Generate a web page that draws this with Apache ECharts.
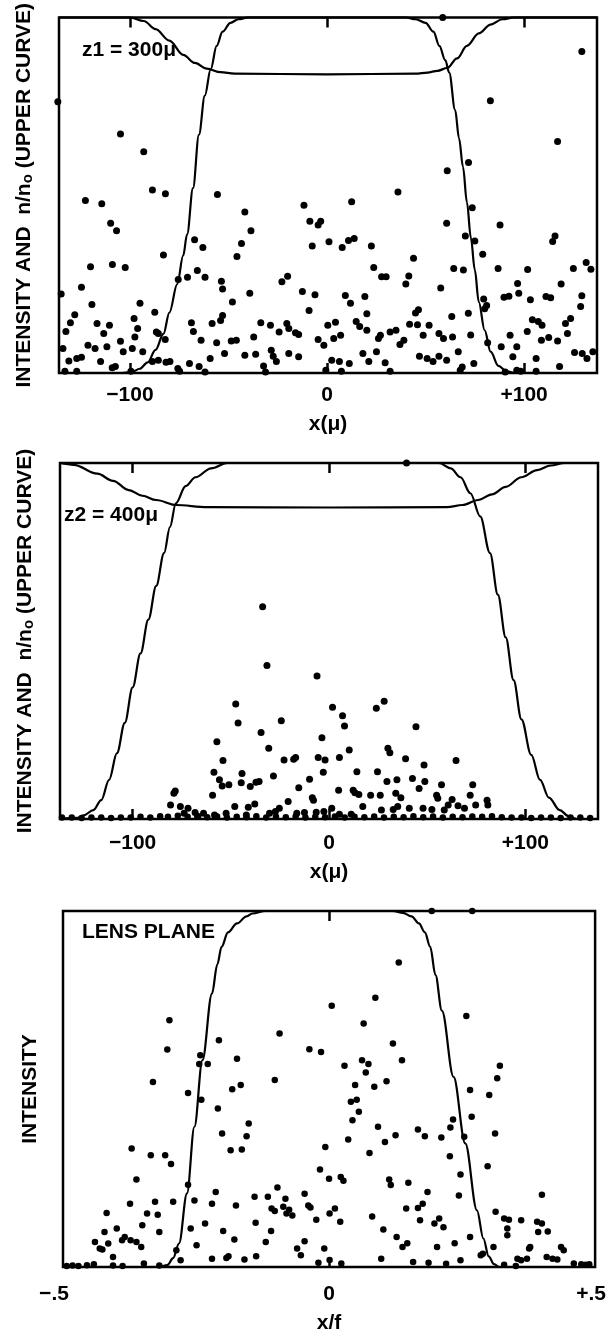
<!DOCTYPE html>
<html><head><meta charset="utf-8">
<script src="https://cdn.jsdelivr.net/npm/echarts@6.0.0/dist/echarts.min.js"></script>
<style>html,body{margin:0;padding:0;background:#fff}#c{width:609px;height:1338px}</style>
</head><body><div id="c"></div>
<script>
// ---------- DATA ----------
const p1Range = [-136, 137];
const p2Range = [-137, 137];
const p3Range = [-0.5, 0.5];
const p12TickValues = [-100, 0, 100];
const p12TickLabels = ['\u2212100', '0', '+100'];
const p3TickValues = [0];
const p3LabelValues = [-0.5, 0, 0.5];
const p3TickLabels = ['{l|\u2212.5}', '0', '{r|+.5}'];
const yNameUpper = 'INTENSITY AND  n/n{s|o} (UPPER CURVE)';
const yNameLens = 'INTENSITY';
const xName12 = 'x(\u03bc)';
const xName3 = 'x/f';
const p1Tag = 'z1 = 300\u03bc';
const p2Tag = 'z2 = 400\u03bc';
const p3Tag = 'LENS PLANE';

// panel 1 curves
const p1Intensity = [[-136,0],[-105,0],[-99,0.003],[-95,0.012],[-91,0.03],[-87,0.065],[-83,0.11],[-80,0.17],[-76,0.25],[-73,0.33],[-71,0.39],[-68,0.52],[-65,0.67],[-62,0.78],[-59,0.855],[-56,0.92],[-53,0.96],[-49,0.985],[-45,0.995],[-40,1],[0,1],[40,1],[45,0.995],[50,0.985],[54,0.96],[57,0.92],[60,0.88],[62,0.845],[65,0.74],[67,0.66],[69,0.58],[71,0.48],[73,0.38],[75,0.29],[77,0.2],[80,0.12],[83,0.06],[87,0.02],[91,0.005],[95,0],[137,0]];
const p1Upper = [[-136,1],[-100,1],[-93,0.99],[-87,0.967],[-80,0.935],[-73,0.895],[-67,0.872],[-61,0.856],[-54,0.846],[-47,0.842],[0,0.84],[45,0.842],[51,0.845],[56,0.85],[61,0.858],[66,0.885],[71,0.92],[77,0.955],[83,0.98],[89,0.995],[95,1],[137,1]];
const p1Dots = [[-136.6,0.763],[58.7,1.0],[129.3,0.904],[82.9,0.766],[117,0.651],[-104.8,0.672],[-93,0.622],[61,0.569],[71.8,0.592],[-88.6,0.515],[-82,0.504],[-122.6,0.485],[-114.3,0.476],[-55.6,0.502],[-41.7,0.453],[36,0.509],[-11.7,0.472],[12.5,0.482],[73.7,0.465],[-109.8,0.421],[-106.8,0.40],[-38.6,0.40],[-8.7,0.427],[-3.2,0.427],[-4.5,0.416],[60.7,0.421],[87.8,0.416],[115.7,0.385],[114.5,0.37],[-67.2,0.375],[-63,0.353],[-43.4,0.364],[-7.5,0.357],[1,0.369],[7.7,0.353],[10.9,0.373],[13.8,0.378],[22.5,0.357],[70.2,0.385],[75,0.371],[-83,0.332],[-45.7,0.328],[43.9,0.323],[79,0.334],[-120,0.299],[-108.9,0.305],[-102.4,0.297],[23.7,0.297],[64.3,0.294],[69.2,0.29],[86.8,0.294],[101.8,0.291],[125,0.294],[131.5,0.311],[133.9,0.292],[-75.5,0.263],[-70.8,0.269],[-65.8,0.288],[-61.9,0.269],[-53,0.236],[-53.6,0.258],[-39.2,0.224],[-22.9,0.257],[-20,0.272],[-12.5,0.229],[-6.1,0.22],[9.3,0.218],[19.2,0.215],[27.7,0.271],[30,0.271],[41.5,0.273],[40,0.25],[57.7,0.239],[96.7,0.252],[97.3,0.224],[118.8,0.25],[129.3,0.217],[-134.9,0.222],[-124.6,0.241],[-119.3,0.193],[-94.9,0.196],[-87.4,0.171],[-48,0.2],[-53,0.162],[-54,0.148],[-9.1,0.176],[11.9,0.196],[20.2,0.167],[44.9,0.169],[46.4,0.178],[63.3,0.159],[71.7,0.168],[79.5,0.208],[81,0.19],[89.8,0.213],[92.3,0.216],[103.2,0.206],[111.1,0.215],[113.5,0.212],[128.7,0.187],[123.6,0.153],[80,0.181],[-128,0.164],[-132.5,0.117],[-130.2,0.141],[-116.7,0.139],[-110.4,0.134],[-113.3,0.111],[-97.9,0.153],[-96.1,0.125],[-97.5,0.101],[-104.8,0.089],[-86.6,0.115],[-85.6,0.111],[-82.1,0.094],[-68.8,0.141],[-67.8,0.117],[-63.9,0.092],[-58.3,0.139],[-56,0.085],[-48.6,0.09],[-46,0.092],[-37.2,0.101],[-33.6,0.141],[-28.7,0.134],[-24.3,0.115],[-20.4,0.139],[-16,0.113],[-14.4,0.108],[-19.4,0.125],[-4.5,0.094],[-1.6,0.078],[0.4,0.134],[4.3,0.143],[3.4,0.097],[6.9,0.106],[14.8,0.145],[16.6,0.131],[20.2,0.12],[26.1,0.097],[27.1,0.106],[32,0.115],[35,0.12],[37,0.08],[39,0.092],[41.9,0.137],[45.9,0.136],[48.8,0.106],[51.8,0.134],[56.8,0.111],[59.1,0.097],[63.7,0.101],[72.9,0.107],[81.5,0.085],[88.4,0.074],[92.9,0.106],[96.3,0.074],[101.6,0.117],[104.2,0.15],[107.2,0.145],[109.1,0.134],[108.8,0.092],[112.5,0.1],[117,0.09],[121,0.139],[122,0.111],[125.6,0.058],[129.5,0.055],[131.9,0.041],[134.9,0.06],[-134,0.069],[-131,0.034],[-127,0.041],[-124.6,0.044],[-121.3,0.078],[-117.7,0.069],[-114.9,0.032],[-111.7,0.074],[-107.4,0.018],[-103.4,0.06],[-98.8,0.069],[-93.5,0.06],[-88.6,0.032],[-85.6,0.036],[-81.7,0.03],[-79.7,0.032],[-75.7,0.013],[-69.8,0.027],[-64.9,0.018],[-59.3,0.041],[-52,0.055],[-41.7,0.05],[-36.2,0.053],[-28.3,0.064],[-27.3,0.047],[-25.7,0.032],[-19.4,0.055],[-14.4,0.046],[2.4,0.036],[6.3,0.032],[11.3,0.027],[18.2,0.055],[21.2,0.032],[25.1,0.06],[29.5,0.029],[46.9,0.047],[50.8,0.041],[53.8,0.032],[56.8,0.047],[60.7,0.036],[66.6,0.06],[74.5,0.027],[94.3,0.046],[106.1,0.041],[118,0.018],[-133,0.005],[-127,0.005],[-109,0.015],[-99.5,0.005],[-74.8,0.005],[-61.9,0.003],[-32.2,0.02],[-31.2,0.003],[-0.6,0.008],[7.3,0.005],[32,0.005],[67.6,0.008],[68.6,0.017],[90.4,0.003],[96.3,0.008],[98.3,0.005],[106.1,0.005]];

// panel 2 curves
const p2Intensity = [[-137,0],[-128,0.003],[-125,0.01],[-120,0.025],[-116,0.053],[-112,0.11],[-108,0.185],[-104,0.27],[-100,0.37],[-96,0.465],[-92,0.56],[-88,0.655],[-84,0.747],[-81,0.82],[-78,0.887],[-73,0.935],[-68,0.96],[-60,0.985],[-52,1],[0,1],[56,1],[62,0.985],[67,0.96],[72,0.915],[77,0.85],[82,0.747],[86,0.63],[90,0.51],[94,0.39],[98,0.28],[103,0.18],[107.5,0.11],[112,0.06],[117.5,0.025],[122,0.008],[126,0],[137,0]];
const p2Upper = [[-137,1],[-130,0.995],[-118,0.97],[-110,0.95],[-102,0.924],[-95,0.908],[-88,0.896],[-78,0.882],[-62,0.876],[0,0.875],[60,0.876],[68,0.882],[76,0.896],[83,0.912],[90,0.933],[98,0.96],[106,0.98],[113,0.993],[120,1],[137,1]];
const p2Dots = [[39.5,1.0],[-33.8,0.596],[-31.6,0.431],[-6.1,0.402],[-47.5,0.323],[28.1,0.331],[24.1,0.311],[1.8,0.314],[6.9,0.29],[-46.3,0.27],[-24.3,0.276],[7.9,0.261],[44.3,0.259],[-34.6,0.243],[-3.6,0.228],[-57.1,0.217],[-30.7,0.199],[10.3,0.194],[30,0.199],[31,0.186],[-54,0.164],[-22.9,0.166],[-17,0.173],[-18,0.168],[-5.5,0.173],[-2,0.166],[5.3,0.173],[39,0.169],[48.4,0.152],[64.7,0.164],[-58.6,0.131],[-44.3,0.128],[-28.3,0.121],[-2.9,0.131],[14.2,0.133],[24.7,0.133],[-55.8,0.11],[-54.4,0.093],[-51,0.096],[-44.7,0.102],[-40.1,0.091],[-37.2,0.103],[-35.6,0.105],[-9.9,0.112],[-15.4,0.088],[29.5,0.105],[34.6,0.11],[42.5,0.114],[48.8,0.105],[45.9,0.086],[57.3,0.096],[73.2,0.096],[-78.3,0.079],[-79,0.072],[-59.3,0.067],[4.9,0.081],[12.3,0.081],[13.2,0.074],[15.2,0.069],[21.2,0.067],[26.1,0.067],[34,0.072],[36.6,0.06],[54.8,0.067],[55.4,0.058],[62.7,0.055],[71.9,0.067],[-8.5,0.06],[-7.9,0.053],[-20.8,0.049],[-37.8,0.042],[-48,0.035],[80.5,0.053],[80.9,0.039],[74.7,0.039],[69,0.03],[65.7,0.037],[60.7,0.039],[58.7,0.025],[40.9,0.03],[35,0.035],[32.7,0.027],[47.9,0.03],[52.4,0.027],[26.7,0.025],[17.2,0.035],[11.3,0.013],[5.3,0.013],[1.4,0.03],[-2.6,0.021],[-6.5,0.019],[-12.5,0.018],[-16.4,0.016],[-25.3,0.03],[-27.3,0.021],[-30.3,0.016],[-41.1,0.033],[-42.1,0.011],[-52.4,0.016],[-58.3,0.011],[-80.7,0.039],[-75.7,0.035],[-71.8,0.03],[-68.2,0.018],[-63.9,0.016],[-73.8,0.016],[-66.8,0.007]];
const p2BaseDots = [[-136,0.004],[-131,0.004],[-126,0.003],[-121,0.004],[-116,0.004],[-111,0.003],[-106,0.004],[-101,0.004],[-96,0.006],[-91,0.004],[-86,0.008],[-82,0.006],[-77,0.009],[-72,0.006],[-67,0.008],[-62,0.005],[-57,0.007],[-52,0.004],[-47,0.006],[-42,0.005],[-37,0.008],[-32,0.004],[-27,0.006],[-22,0.005],[-17,0.007],[-12,0.004],[-7,0.006],[-2,0.005],[3,0.007],[8,0.004],[13,0.006],[18,0.005],[23,0.007],[28,0.004],[33,0.006],[38,0.005],[43,0.008],[48,0.005],[53,0.007],[58,0.004],[63,0.006],[68,0.005],[73,0.007],[78,0.006],[83,0.008],[88,0.005],[93,0.004],[98,0.004],[103,0.003],[108,0.004],[113,0.004],[118,0.003],[123,0.004],[128,0.004],[133,0.003]];

// panel 3 curves
const p3Intensity = [[-0.5,0],[-0.32,0],[-0.304,0.005],[-0.293,0.025],[-0.282,0.066],[-0.267,0.207],[-0.253,0.394],[-0.238,0.581],[-0.22,0.768],[-0.21,0.85],[-0.202,0.899],[-0.19,0.94],[-0.173,0.965],[-0.155,0.985],[-0.144,0.993],[-0.12,1],[0,1],[0.12,1],[0.139,0.995],[0.155,0.985],[0.169,0.965],[0.18,0.94],[0.19,0.9],[0.2,0.82],[0.212,0.72],[0.234,0.534],[0.256,0.347],[0.278,0.159],[0.29,0.08],[0.3,0.03],[0.31,0.008],[0.32,0],[0.5,0]];
const p3Dots = [[0.193,1.0],[0.269,1.0],[0.131,0.855],[0.087,0.756],[0.005,0.734],[0.258,0.705],[-0.3,0.693],[0.065,0.684],[-0.093,0.656],[-0.207,0.637],[-0.304,0.611],[-0.037,0.612],[-0.015,0.604],[0.12,0.628],[-0.242,0.595],[-0.228,0.57],[-0.244,0.57],[-0.173,0.585],[0.029,0.565],[0.062,0.581],[0.074,0.57],[0.137,0.581],[0.321,0.565],[0.069,0.546],[0.316,0.53],[-0.331,0.52],[-0.102,0.525],[0.108,0.522],[-0.182,0.499],[-0.166,0.511],[0.049,0.511],[0.085,0.506],[0.265,0.497],[-0.265,0.489],[0.301,0.483],[-0.24,0.47],[0.052,0.47],[0.041,0.464],[-0.209,0.445],[0.056,0.436],[0.044,0.412],[0.268,0.422],[-0.151,0.403],[0.092,0.394],[0.233,0.414],[0.228,0.392],[0.167,0.386],[0.18,0.367],[0.211,0.364],[0.254,0.366],[0.125,0.37],[-0.201,0.375],[-0.155,0.367],[0.036,0.358],[0.105,0.351],[0.312,0.375],[-0.371,0.333],[-0.185,0.328],[-0.164,0.33],[-0.007,0.337],[0.076,0.32],[-0.335,0.314],[-0.308,0.314],[-0.297,0.289],[0.227,0.311],[0.298,0.283],[-0.017,0.274],[0,0.248],[0.022,0.253],[0.027,0.242],[0.247,0.26],[-0.362,0.246],[-0.265,0.231],[0.113,0.246],[0.116,0.23],[0.149,0.237],[-0.213,0.211],[-0.097,0.223],[-0.046,0.206],[0.185,0.211],[0.244,0.201],[0.4,0.203],[-0.253,0.187],[-0.374,0.178],[-0.327,0.183],[-0.293,0.183],[-0.22,0.178],[-0.175,0.173],[-0.14,0.197],[-0.115,0.197],[-0.082,0.192],[-0.108,0.164],[-0.102,0.157],[-0.086,0.169],[-0.075,0.161],[-0.08,0.15],[-0.039,0.173],[-0.035,0.167],[0.011,0.164],[0.001,0.15],[0.145,0.164],[0.167,0.166],[0.176,0.178],[0.313,0.155],[-0.418,0.152],[-0.342,0.15],[-0.322,0.147],[0.081,0.142],[0.171,0.131],[0.207,0.136],[0.329,0.136],[0.338,0.133],[0.361,0.131],[0.391,0.127],[0.4,0.122],[-0.351,0.117],[-0.233,0.122],[-0.138,0.124],[-0.069,0.145],[-0.024,0.133],[0.021,0.127],[0.198,0.122],[0.215,0.112],[0.411,0.1],[-0.422,0.098],[-0.399,0.108],[-0.319,0.098],[-0.26,0.108],[-0.199,0.101],[-0.109,0.101],[0.102,0.105],[-0.384,0.084],[-0.389,0.075],[-0.373,0.075],[-0.362,0.07],[-0.44,0.07],[-0.415,0.066],[-0.178,0.077],[-0.119,0.07],[-0.046,0.072],[0.127,0.084],[0.138,0.056],[0.147,0.067],[0.236,0.067],[0.265,0.084],[0.335,0.089],[0.393,0.098],[0.335,0.108],[-0.431,0.052],[-0.426,0.049],[-0.353,0.056],[-0.249,0.061],[-0.06,0.052],[-0.009,0.052],[0.203,0.056],[0.309,0.056],[0.376,0.052],[0.378,0.056],[0.436,0.056],[0.441,0.047],[-0.287,0.047],[-0.189,0.03],[-0.159,0.021],[-0.193,0.025],[-0.137,0.03],[-0.053,0.033],[-0.22,0.023],[-0.406,0.028],[-0.279,0.019],[0.098,0.023],[0.247,0.019],[0.285,0.033],[0.289,0.037],[0.409,0.028],[0.42,0.023],[0.429,0.021],[0.354,0.023],[0.361,0.019],[0.372,0.023],[-0.493,0.003],[-0.482,0.004],[-0.471,0.003],[-0.455,0.005],[-0.442,0.008],[-0.406,0.004],[-0.388,0.003],[-0.348,0.01],[-0.319,0.004],[-0.02,0.012],[0.001,0.02],[0.023,0.01],[0.158,0.014],[0.187,0.012],[0.22,0.009],[0.329,0.006],[0.351,0.003],[0.46,0.01],[0.474,0.008],[0.482,0.006],[0.489,0.008]];

// ---------- CHART ----------
const FONT = "'Liberation Sans', Arial, Helvetica, sans-serif";
const BLACK = '#000';
const grids = [
  {left: 59, top: 15, width: 538, height: 358},
  {left: 60, top: 463, width: 538, height: 356},
  {left: 63, top: 911, width: 535, height: 356}
].map(g => Object.assign({show: true, borderColor: BLACK, borderWidth: 2.5, backgroundColor: 'transparent'}, g));

const labelStyle = {fontSize: 21, fontWeight: 'bold', color: BLACK, fontFamily: FONT};

function lookup(vals, texts, v) {
  for (let i = 0; i < vals.length; i++) if (Math.abs(vals[i] - v) < 1e-9) return texts[i];
  return '';
}

function makeXAxes(gi, range, tickVals, labelVals, labelTexts, margin, name, nameGap) {
  const tick = {show: true, inside: true, length: 10, lineStyle: {color: BLACK, width: 2.5}, customValues: tickVals};
  return [
    {type: 'value', gridIndex: gi, min: range[0], max: range[1], position: 'bottom',
     axisLine: {show: false}, splitLine: {show: false}, axisTick: tick,
     axisLabel: Object.assign({show: true, customValues: labelVals, margin: margin,
       formatter: v => lookup(labelVals, labelTexts, v),
       rich: {l: Object.assign({}, labelStyle, {padding: [0, 18, 0, 0]}), r: Object.assign({}, labelStyle, {padding: [0, 8, 0, 0]})}}, labelStyle),
     name: name, nameLocation: 'middle', nameGap: nameGap, nameTextStyle: labelStyle},
    {type: 'value', gridIndex: gi, min: range[0], max: range[1], position: 'top',
     axisLine: {show: false}, splitLine: {show: false}, axisLabel: {show: false}, axisTick: tick}
  ];
}

function makeYAxis(gi, name, nameGap) {
  return {type: 'value', gridIndex: gi, min: 0, max: 1,
    axisLine: {show: false}, axisTick: {show: false}, axisLabel: {show: false}, splitLine: {show: false},
    name: name, nameLocation: 'middle', nameGap: nameGap,
    nameTextStyle: Object.assign({}, labelStyle, {rich: {s: {fontSize: 15, fontWeight: 'bold', fontFamily: FONT, color: BLACK, lineHeight: 4, verticalAlign: 'bottom'}}})};
}

const xAxis = [].concat(
  makeXAxes(0, p1Range, p12TickValues, p12TickValues, p12TickLabels, 12, xName12, 41),
  makeXAxes(1, p2Range, p12TickValues, p12TickValues, p12TickLabels, 14, xName12, 43),
  makeXAxes(2, p3Range, p3TickValues, p3LabelValues, p3TickLabels, 17, xName3, 46)
);
const yAxis = [makeYAxis(0, yNameUpper, 24), makeYAxis(1, yNameUpper, 24), makeYAxis(2, yNameLens, 22)];

function lineSeries(xi, yi, data) {
  return {type: 'line', xAxisIndex: xi, yAxisIndex: yi, data: data, showSymbol: false, smooth: 0.35, smoothMonotone: 'x',
    lineStyle: {color: BLACK, width: 2.2}, silent: true, z: 3, clip: true};
}
function dotSeries(xi, yi, data, size) {
  return {type: 'scatter', xAxisIndex: xi, yAxisIndex: yi, data: data, symbol: 'circle', symbolSize: size,
    itemStyle: {color: BLACK, opacity: 1}, silent: true, z: 4, clip: false};
}

const series = [
  lineSeries(0, 0, p1Intensity), lineSeries(0, 0, p1Upper), dotSeries(0, 0, p1Dots, 7),
  lineSeries(2, 1, p2Intensity), lineSeries(2, 1, p2Upper), dotSeries(2, 1, p2Dots, 7), dotSeries(2, 1, p2BaseDots, 6.5),
  lineSeries(4, 2, p3Intensity), dotSeries(4, 2, p3Dots, 6.5)
];

const tagFont = 'bold 21px ' + FONT;
const graphic = [
  {type: 'text', left: 82, top: 40, style: {text: p1Tag, font: tagFont, fill: BLACK}, z: 10},
  {type: 'text', left: 64, top: 505, style: {text: p2Tag, font: tagFont, fill: BLACK}, z: 10},
  {type: 'text', left: 82, top: 922, style: {text: p3Tag, font: tagFont, fill: BLACK}, z: 10}
];

const chart = echarts.init(document.getElementById('c'), null, {renderer: 'canvas', width: 609, height: 1338});
chart.setOption({animation: false, backgroundColor: '#fff', grid: grids, xAxis: xAxis, yAxis: yAxis, series: series, graphic: graphic});
</script></body></html>
